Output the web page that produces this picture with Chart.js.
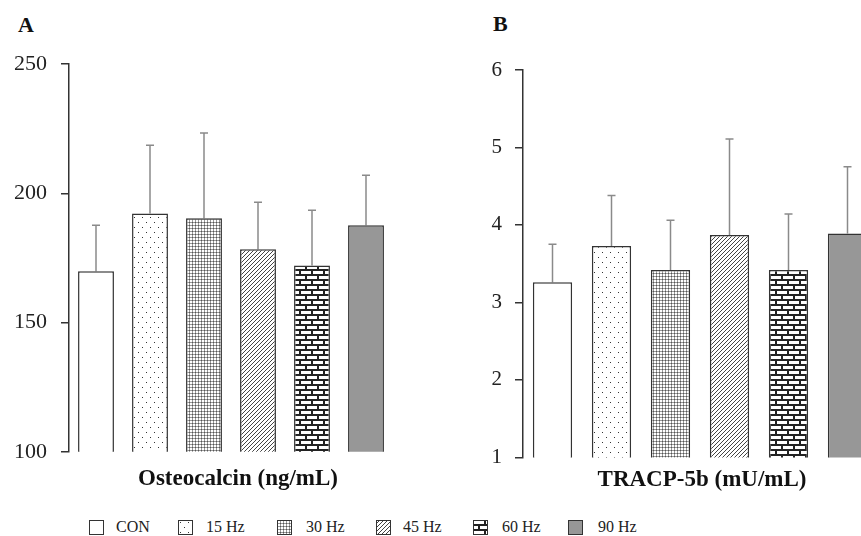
<!DOCTYPE html>
<html>
<head>
<meta charset="utf-8">
<script src="https://cdn.jsdelivr.net/npm/chart.js@4.4.0/dist/chart.umd.min.js"></script>
<style>
  html, body { margin: 0; padding: 0; background: #fff; }
  body { width: 861px; height: 536px; position: relative; overflow: hidden; font-family: "Liberation Serif", "Times New Roman", serif; }
  #wrapA { position: absolute; left: 0; top: 0; width: 430px; height: 479px; }
  #wrapB { position: absolute; left: 440px; top: 0; width: 460px; height: 483px; }
  .panel { position: absolute; font-weight: bold; font-size: 22px; color: #111; }
  .xlab { position: absolute; font-weight: bold; font-size: 23px; color: #111; white-space: nowrap; transform: translate(-50%, -50%); }
  .leg { position: absolute; top: 520px; font-size: 16px; color: #222; white-space: nowrap; }
  .leg canvas { position: absolute; top: 0; }
  .leg span { position: absolute; top: -2px; }
</style>
</head>
<body>
<div class="panel" style="left:18px; top:12px;">A</div>
<div class="panel" style="left:493px; top:11px;">B</div>
<div id="wrapA"><canvas id="chartA"></canvas></div>
<div id="wrapB"><canvas id="chartB"></canvas></div>
<div class="xlab" style="left:238px; top:478px;">Osteocalcin (ng/mL)</div>
<div class="xlab" style="left:702px; top:479px;">TRACP-5b (mU/mL)</div>
<div id="legend"></div>
<script>
const groups = ['CON', '15 Hz', '30 Hz', '45 Hz', '60 Hz', '90 Hz'];

// Osteocalcin (ng/mL): mean and SD
const osteoMean = [169.8, 192.2, 190.3, 178.3, 172.1, 187.6];
const osteoSD = [17.8, 26.4, 33.0, 18.2, 21.3, 19.4];
const osteoTicks = [100, 150, 200, 250];

// TRACP-5b (mU/mL): mean and SD
const tracpMean = [3.26, 3.73, 3.42, 3.87, 3.42, 3.89];
const tracpSD = [0.49, 0.65, 0.64, 1.24, 0.72, 0.86];
const tracpTicks = [1, 2, 3, 4, 5, 6];

const fills = ['white', 'dots', 'fine', 'diag', 'brick', 'grey'];

function makeFill(ctx, kind) {
  if (kind === 'white') return '#ffffff';
  if (kind === 'grey') return '#979797';
  const t = document.createElement('canvas');
  const c = t.getContext('2d');
  if (kind === 'dots') {
    t.width = 8; t.height = 10;
    c.fillStyle = '#fff'; c.fillRect(0, 0, 8, 10);
    c.fillStyle = '#333';
    c.fillRect(2, 2, 1, 1);
    c.fillRect(6, 7, 1, 1);
  } else if (kind === 'fine') {
    t.width = 3; t.height = 3;
    c.fillStyle = '#fff'; c.fillRect(0, 0, 3, 3);
    c.fillStyle = '#999';
    c.fillRect(0, 0, 3, 1);
    c.fillRect(0, 0, 1, 3);
    c.fillStyle = '#555';
    c.fillRect(0, 0, 1, 1);
  } else if (kind === 'diag') {
    t.width = 4; t.height = 4;
    c.fillStyle = '#fff'; c.fillRect(0, 0, 4, 4);
    c.strokeStyle = '#444'; c.lineWidth = 1;
    c.beginPath();
    c.moveTo(-1, 5); c.lineTo(5, -1);
    c.moveTo(-5, 5); c.lineTo(1, -1);
    c.moveTo(3, 5); c.lineTo(9, -1);
    c.stroke();
  } else if (kind === 'brick') {
    t.width = 12; t.height = 10;
    c.fillStyle = '#222'; c.fillRect(0, 0, 12, 10);
    c.fillStyle = '#fff';
    c.fillRect(1, 1, 10, 3);
    c.fillRect(0, 6, 5, 3);
    c.fillRect(7, 6, 5, 3);
  }
  return ctx.createPattern(t, 'repeat');
}

// upper error bars, positioned through the chart's own scales
const errorBars = {
  id: 'errorBars',
  beforeDatasetsDraw(chart) {
    const ctx = chart.ctx;
    const yScale = chart.scales.y;
    const meta = chart.getDatasetMeta(0);
    const means = chart.data.datasets[0].data;
    const sds = chart.options.plugins.errorBars.sd;
    ctx.save();
    ctx.strokeStyle = '#8a8a8a';
    ctx.lineWidth = 1.5;
    meta.data.forEach((bar, i) => {
      const x = bar.x;
      const y0 = yScale.getPixelForValue(means[i]);
      const y1 = yScale.getPixelForValue(means[i] + sds[i]);
      ctx.beginPath();
      ctx.moveTo(x, y0);
      ctx.lineTo(x, y1);
      ctx.moveTo(x - 4, y1);
      ctx.lineTo(x + 4, y1);
      ctx.stroke();
    });
    ctx.restore();
  }
};

function buildChart(id, means, sds, ticks, axisWidth, pad, fontSize, tickPad) {
  const ctx = document.getElementById(id).getContext('2d');
  return new Chart(ctx, {
    type: 'bar',
    data: {
      labels: groups,
      datasets: [{
        data: means,
        backgroundColor: fills.map(f => makeFill(ctx, f)),
        borderColor: '#333',
        borderWidth: 1.5,
        borderSkipped: false,
        barPercentage: 0.665,
        categoryPercentage: 1
      }]
    },
    options: {
      responsive: true,
      maintainAspectRatio: false,
      animation: false,
      layout: { padding: pad },
      plugins: {
        legend: { display: false },
        tooltip: { enabled: false },
        errorBars: { sd: sds }
      },
      scales: {
        x: { display: false },
        y: {
          min: ticks[0],
          max: ticks[ticks.length - 1],
          afterBuildTicks: s => { s.ticks = ticks.map(v => ({ value: v })); },
          afterFit: s => { s.width = axisWidth; },
          border: { display: true, color: '#333', width: 1.5 },
          grid: { drawOnChartArea: false, drawTicks: true, tickLength: 8, color: '#333', lineWidth: 1.5 },
          ticks: {
            padding: tickPad,
            color: '#222',
            font: { family: '"Liberation Serif", "Times New Roman", serif', size: fontSize }
          }
        }
      }
    },
    plugins: [errorBars]
  });
}

buildChart('chartA', osteoMean, osteoSD, osteoTicks, 69, { left: 0, right: 37, top: 64, bottom: 0 }, 22, 14);
buildChart('chartB', tracpMean, tracpSD, tracpTicks, 83, { left: 0, right: 23, top: 70, bottom: 0 }, 21, 13);

// legend under both panels
const legendX = [89, 178, 277, 376, 473, 568];
const legendTextX = [116, 206, 306, 403, 502, 598];
const legend = document.getElementById('legend');
groups.forEach((g, i) => {
  const item = document.createElement('div');
  item.className = 'leg';
  item.style.left = legendX[i] + 'px';
  const sw = document.createElement('canvas');
  sw.width = 15; sw.height = 15;
  const sc = sw.getContext('2d');
  sc.fillStyle = makeFill(sc, fills[i]);
  sc.fillRect(0, 0, 15, 15);
  sc.strokeStyle = '#333'; sc.lineWidth = 1;
  sc.strokeRect(0.5, 0.5, 14, 14);
  item.appendChild(sw);
  const tx = document.createElement('span');
  tx.textContent = g;
  tx.style.left = (legendTextX[i] - legendX[i]) + 'px';
  item.appendChild(tx);
  legend.appendChild(item);
});
</script>
</body>
</html>
